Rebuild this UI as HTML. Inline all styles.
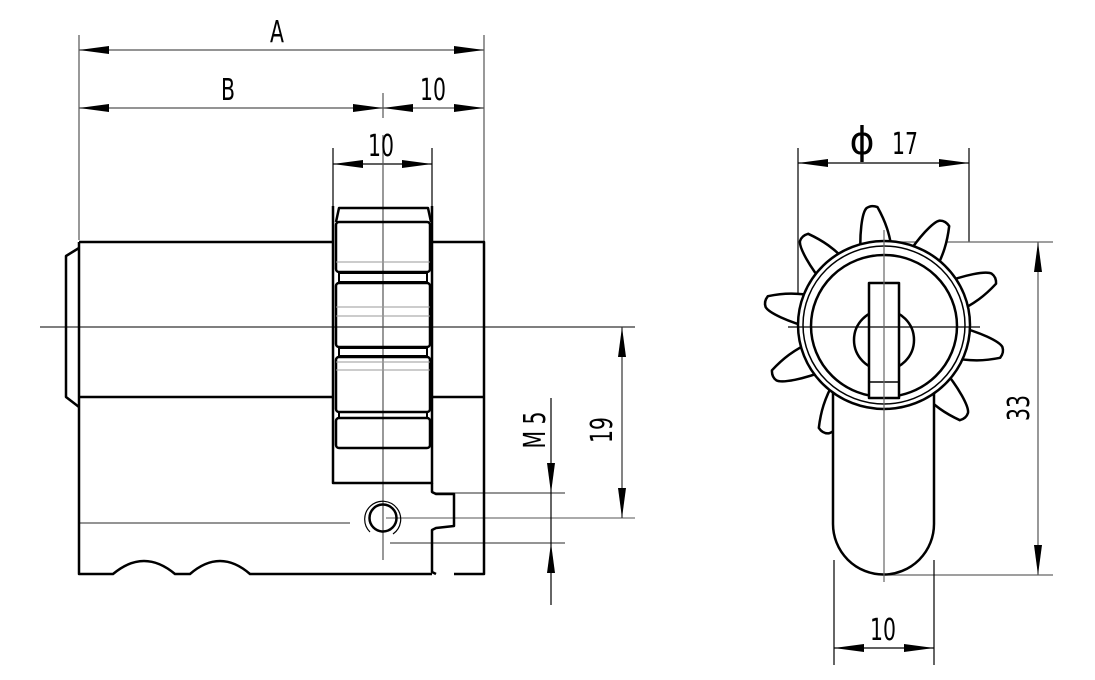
<!DOCTYPE html>
<html><head><meta charset="utf-8"><style>
html,body{margin:0;padding:0;background:#fff;width:1095px;height:680px;overflow:hidden}
svg{display:block}
text{font-family:"DejaVu Sans","Liberation Sans",sans-serif;font-size:30px;fill:#000}
</style></head><body>
<svg width="1095" height="680" viewBox="0 0 1095 680" xmlns="http://www.w3.org/2000/svg">
<defs>
<path id="petal" d="M -16,-70 C -15,-95 -10,-116 -5,-120 Q 0,-123 6,-120 C 12,-106 16,-92 16,-70 Z"/>
</defs>
<g stroke="#000" stroke-width="1.2" fill="none">
<line x1="79" y1="35" x2="79" y2="240" stroke="#555"/>
<line x1="484" y1="35" x2="484" y2="242" stroke="#555"/>
<line x1="383" y1="93" x2="383" y2="118" stroke="#555"/>
<line x1="333" y1="148" x2="333" y2="206"/>
<line x1="432" y1="148" x2="432" y2="206"/>
<line x1="79" y1="50" x2="484" y2="50" stroke="#555"/>
<line x1="79" y1="108" x2="484" y2="108" stroke="#555"/>
<line x1="333" y1="164" x2="432" y2="164"/>
<line x1="40" y1="327" x2="635" y2="327" stroke="#333"/>
<line x1="383" y1="135" x2="383" y2="560" stroke="#555"/>
<line x1="79" y1="523" x2="350" y2="523" stroke="#555"/>
<line x1="432" y1="493" x2="565" y2="493" stroke="#555"/>
<line x1="386" y1="518" x2="635" y2="518" stroke="#777"/>
<line x1="390" y1="543" x2="565" y2="543" stroke="#555"/>
<line x1="551" y1="398" x2="551" y2="605"/>
<line x1="622" y1="327" x2="622" y2="518" stroke="#333"/>
</g>
<g fill="#000">
<polygon points="79,50 109,46 109,54"/><polygon points="484,50 454,46 454,54"/>
<polygon points="79,108 109,104 109,112"/><polygon points="383,108 353,104 353,112"/>
<polygon points="383,108 413,104 413,112"/><polygon points="484,108 454,104 454,112"/>
<polygon points="333,164 363,160 363,168"/><polygon points="432,164 402,160 402,168"/>
<polygon points="551,493 547,463 555,463"/><polygon points="551,543 547,573 555,573"/>
<polygon points="622,327 618,357 626,357"/><polygon points="622,518 618,488 626,488"/>
</g>
<g stroke="#000" stroke-width="2.5" fill="none" stroke-linejoin="round">
<path d="M79,242 L333,242 M79,397 L333,397 M79,242 L79,574 L113,574 Q144,548 175,574 L190,574 Q220,548 250,574 L432,574"/>
<path d="M79,248 L66,256 L66,397 L79,407"/>
<path d="M432,242 L484,242 L484,574 L454,574 M432,397 L484,397"/>
<path d="M333,206 L333,483 L432,483 L432,206"/>
<path d="M432,483 L432,492 L436,494 L454,494 L454,526 L436,528 L432,530 L432,572 L436,574"/>
<path d="M336,222 L339,208 L428,208 L431,222"/>
<rect x="336" y="222" width="94" height="50" rx="3"/>
<rect x="336" y="283" width="94" height="64" rx="3"/>
<rect x="336" y="357" width="94" height="55" rx="3"/>
<rect x="336" y="418" width="94" height="30" rx="3"/>
<rect x="339" y="273" width="88" height="9" stroke-width="2"/>
<rect x="339" y="348" width="88" height="8" stroke-width="2"/>
<rect x="339" y="412" width="88" height="6" stroke-width="2"/>
<circle cx="383" cy="518" r="13.5"/>
<path d="M370,532 A18,18 0 1 1 393,534" stroke-width="1.2"/>
</g>
<g stroke="#999" stroke-width="1"><line x1="336" y1="262" x2="430" y2="262"/><line x1="336" y1="307" x2="430" y2="307"/><line x1="336" y1="316" x2="430" y2="316"/><line x1="336" y1="362" x2="430" y2="362"/><line x1="336" y1="370" x2="430" y2="370"/></g>
<g stroke="#000" stroke-width="1.2" fill="none">
<line x1="798" y1="148" x2="798" y2="330"/>
<line x1="969" y1="148" x2="969" y2="242"/>
<line x1="798" y1="163" x2="969" y2="163"/>
<line x1="884" y1="242" x2="1053" y2="242" stroke="#666"/>
<line x1="884" y1="575" x2="1053" y2="575" stroke="#666"/>
<line x1="1038" y1="242" x2="1038" y2="575" stroke="#555"/>
<line x1="834" y1="560" x2="834" y2="665"/>
<line x1="934" y1="560" x2="934" y2="665"/>
<line x1="834" y1="648" x2="934" y2="648"/>
</g>
<g fill="#000">
<polygon points="798,163 828,159 828,167"/><polygon points="969,163 939,159 939,167"/>
<polygon points="1038,242 1034,272 1042,272"/><polygon points="1038,575 1034,545 1042,545"/>
<polygon points="834,648 864,644 864,652"/><polygon points="934,648 904,644 904,652"/>
</g>
<g stroke="#000" stroke-width="2.5" fill="#fff" stroke-linejoin="round">
<use href="#petal" transform="translate(884,327) rotate(-6)"/>
<use href="#petal" transform="translate(884,327) rotate(30)"/>
<use href="#petal" transform="translate(884,327) rotate(66)"/>
<use href="#petal" transform="translate(884,327) rotate(102)"/>
<use href="#petal" transform="translate(884,327) rotate(138)"/>
<use href="#petal" transform="translate(884,327) rotate(210)"/>
<use href="#petal" transform="translate(884,327) rotate(246)"/>
<use href="#petal" transform="translate(884,327) rotate(282)"/>
<use href="#petal" transform="translate(884,327) rotate(318)"/>
<path d="M833,380 L833,524 A50.5,50.5 0 0 0 934,524 L934,380 Z"/>
<ellipse cx="884" cy="325" rx="86" ry="84"/>
<ellipse cx="884" cy="325" rx="81" ry="79" stroke-width="1.5"/>
<ellipse cx="884" cy="326" rx="73" ry="71"/>
<circle cx="884" cy="340" r="30"/>
<rect x="869" y="283" width="30" height="115"/>
<line x1="869" y1="382" x2="899" y2="382" stroke-width="1.5"/>
</g>
<g stroke="#000" stroke-width="1.2">
<line x1="788" y1="327" x2="980" y2="327"/>
<line x1="884" y1="230" x2="884" y2="582" stroke="#666"/>
</g>
<g>
<text x="277" y="42" text-anchor="middle" transform="translate(277,0) scale(0.68,1) translate(-277,0)">A</text>
<text x="228" y="100" text-anchor="middle" transform="translate(228,0) scale(0.68,1) translate(-228,0)">B</text>
<text x="433" y="100" text-anchor="middle" transform="translate(433,0) scale(0.68,1) translate(-433,0)">10</text>
<text x="381" y="156" text-anchor="middle" transform="translate(381,0) scale(0.68,1) translate(-381,0)">10</text>
<text x="883" y="640" text-anchor="middle" transform="translate(883,0) scale(0.68,1) translate(-883,0)">10</text>
<text x="862" y="154" text-anchor="middle" style="font-size:38px">ϕ</text>
<text x="905" y="154" text-anchor="middle" transform="translate(905,0) scale(0.68,1) translate(-905,0)">17</text>
<text transform="translate(545,430) rotate(-90) scale(0.68,1)" text-anchor="middle">M 5</text>
<text transform="translate(612,430) rotate(-90) scale(0.68,1)" text-anchor="middle">19</text>
<text transform="translate(1029,408) rotate(-90) scale(0.68,1)" text-anchor="middle">33</text>
</g>
</svg>
</body></html>
